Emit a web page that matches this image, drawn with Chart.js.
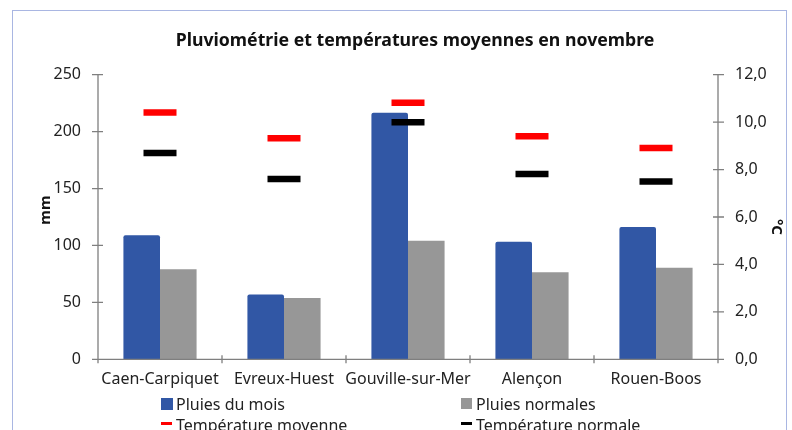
<!DOCTYPE html>
<html>
<head>
<meta charset="utf-8">
<script src="https://cdn.jsdelivr.net/npm/chart.js@4/dist/chart.umd.min.js"></script>
<style>
  html, body { margin: 0; padding: 0; background: #fff; }
  body { width: 792px; height: 430px; overflow: hidden; position: relative; font-family: "Noto Sans", sans-serif; }
  #frame { position: absolute; left: 12px; top: 10px; width: 775px; height: 460px; border: 1px solid #a9b6e2; box-sizing: border-box; }
  #wrap { position: absolute; left: 0; top: 0; width: 792px; height: 430px; }
  .lg { position: absolute; font-size: 16px; color: #222; white-space: nowrap; line-height: 18px; }
  .sw { position: absolute; }
</style>
</head>
<body>
<div id="frame"></div>
<div id="wrap"><canvas id="c" width="792" height="430"></canvas></div>

<div class="sw" style="left:161px;top:398px;width:12px;height:12px;background:#3157a5;"></div>
<div class="lg" style="left:176px;top:395px;">Pluies du mois</div>
<div class="sw" style="left:461px;top:398px;width:11px;height:11px;background:#979797;"></div>
<div class="lg" style="left:476px;top:395px;">Pluies normales</div>
<div class="sw" style="left:161px;top:422px;width:11px;height:3px;background:#ff0000;"></div>
<div class="lg" style="left:176px;top:416px;">Température moyenne</div>
<div class="sw" style="left:461px;top:422px;width:11px;height:3px;background:#000000;"></div>
<div class="lg" style="left:476px;top:416px;">Température normale</div>

<script>
const stations = ["Caen-Carpiquet", "Evreux-Huest", "Gouville-sur-Mer", "Alençon", "Rouen-Boos"];
const pluiesMois = [109, 57, 216.6, 103.3, 116.2];
const pluiesNormales = [79.1, 53.8, 104.2, 76.4, 80.5];
const tempMoyenne = [10.41, 9.32, 10.82, 9.41, 8.91];
const tempNormale = [8.70, 7.60, 10.0, 7.81, 7.50];
const rainTicks = [0, 50, 100, 150, 200, 250];
const tempTicks = [0, 2, 4, 6, 8, 10, 12];
const chartTitle = 'Pluviométrie et températures moyennes en novembre';

const FONT = '"Noto Sans", sans-serif';
const AXIS = '#7f7f7f';

const axesPlugin = {
  id: 'axesDraw',
  afterDatasetsDraw(chart) {
    const ctx = chart.ctx;
    const a = chart.chartArea;
    const yL = chart.scales.y, yR = chart.scales.y1, x = chart.scales.x;
    ctx.save();
    ctx.strokeStyle = AXIS;
    ctx.lineWidth = 1.3;
    ctx.beginPath();
    ctx.moveTo(a.left, a.top); ctx.lineTo(a.left, a.bottom);
    rainTicks.forEach(v => { const py = yL.getPixelForValue(v); ctx.moveTo(a.left - 6, py); ctx.lineTo(a.left + 5, py); });
    ctx.moveTo(a.right, a.top); ctx.lineTo(a.right, a.bottom);
    tempTicks.forEach(v => { const py = yR.getPixelForValue(v); ctx.moveTo(a.right - 5, py); ctx.lineTo(a.right + 6, py); });
    ctx.moveTo(a.left, a.bottom); ctx.lineTo(a.right, a.bottom);
    for (let i = 0; i <= stations.length; i++) {
      const px = x.getPixelForValue(i - 0.5);
      ctx.moveTo(px, a.bottom - 4); ctx.lineTo(px, a.bottom + 4);
    }
    ctx.stroke();

    ctx.fillStyle = '#111';
    ctx.textAlign = 'center';
    ctx.textBaseline = 'middle';
    // chart title
    ctx.font = 'bold 17.7px ' + FONT;
    ctx.fillText(chartTitle, 415, 41);
    // axis titles
    ctx.font = 'bold 15px ' + FONT;
    ctx.save();
    ctx.translate(46, 210);
    ctx.rotate(-Math.PI / 2);
    ctx.fillText('mm', 0, 0);
    ctx.restore();
    ctx.save();
    ctx.translate(776, 227);
    ctx.rotate(Math.PI / 2);
    ctx.fillText('°C', 0, 0);
    ctx.restore();
    ctx.restore();
  }
};

new Chart(document.getElementById('c'), {
  type: 'bar',
  data: {
    labels: stations,
    datasets: [
      { type: 'line', label: 'Température moyenne', data: tempMoyenne, yAxisID: 'y1', showLine: false,
        pointStyle: 'line', pointRadius: 16.5, pointHoverRadius: 16.5, borderColor: '#ff0000', backgroundColor: '#ff0000', pointBorderWidth: 6.5, pointHoverBorderWidth: 6.5, order: 0 },
      { type: 'line', label: 'Température normale', data: tempNormale, yAxisID: 'y1', showLine: false,
        pointStyle: 'line', pointRadius: 16.5, pointHoverRadius: 16.5, borderColor: '#000000', backgroundColor: '#000000', pointBorderWidth: 6.5, pointHoverBorderWidth: 6.5, order: 0 },
      { label: 'Pluies du mois', data: pluiesMois, backgroundColor: '#3157a5', yAxisID: 'y', order: 1,
        borderRadius: { topLeft: 2, topRight: 2 }, borderSkipped: 'bottom' },
      { label: 'Pluies normales', data: pluiesNormales, backgroundColor: '#979797', yAxisID: 'y', order: 1 }
    ]
  },
  options: {
    responsive: false,
    animation: false,
    events: [],
    layout: { padding: { left: 0, right: 0, top: 74.7, bottom: 0 } },
    datasets: { bar: { categoryPercentage: 0.59, barPercentage: 1 } },
    plugins: {
      legend: { display: false },
      tooltip: { enabled: false },
      title: { display: false }
    },
    scales: {
      x: {
        grid: { display: false, drawTicks: false },
        border: { display: false },
        ticks: { color: '#222', font: { family: FONT, size: 16 }, padding: 11, maxRotation: 0, autoSkip: false },
        afterFit(s) { s.height = 70.7; }
      },
      y: {
        position: 'left',
        min: 0, max: 250,
        afterBuildTicks(s) { s.ticks = rainTicks.map(v => ({ value: v })); },
        grid: { display: false, drawTicks: false },
        border: { display: false },
        ticks: { color: '#222', font: { family: FONT, size: 16 }, padding: 17 },
        afterFit(s) { s.width = 98; }
      },
      y1: {
        position: 'right',
        min: 0, max: 12,
        afterBuildTicks(s) { s.ticks = tempTicks.map(v => ({ value: v })); },
        grid: { display: false, drawTicks: false },
        border: { display: false },
        ticks: { color: '#222', font: { family: FONT, size: 16 }, padding: 17,
          callback: v => v.toFixed(1).replace('.', ',') },
        afterFit(s) { s.width = 74; }
      }
    }
  },
  plugins: [axesPlugin]
});
</script>
</body>
</html>
